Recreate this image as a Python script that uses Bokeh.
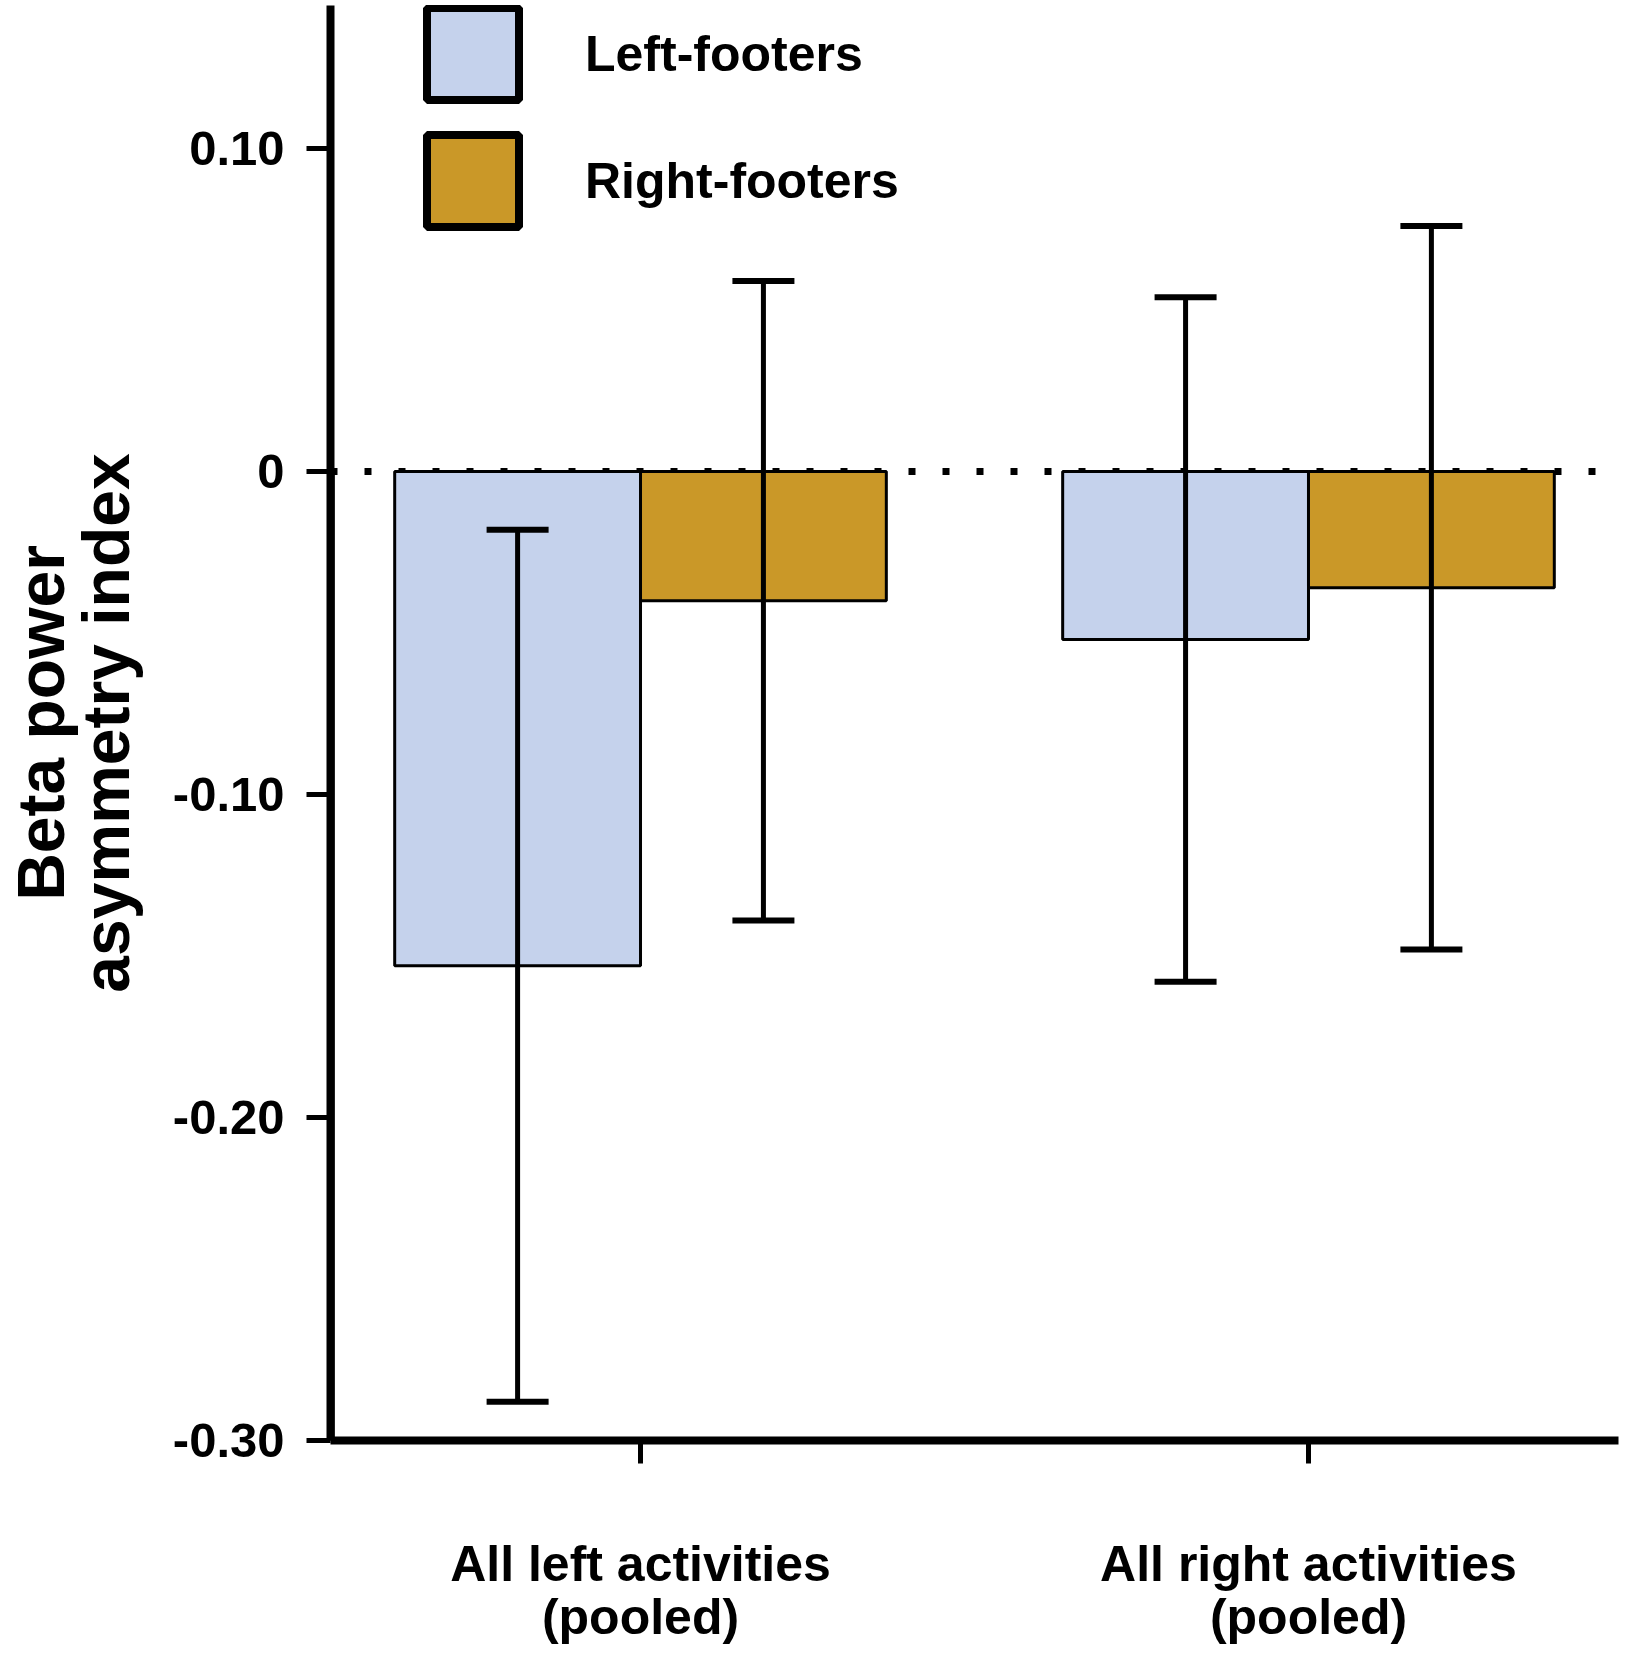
from bokeh.plotting import figure
from bokeh.models import (ColumnDataSource, Range1d, FixedTicker, Whisker, TeeHead, Span,
                          Legend, LegendItem, CustomJSTickFormatter)
from bokeh.embed import file_html
from bokeh.resources import INLINE

# ---------------- data ----------------
categories = ["All left activities\n(pooled)", "All right activities\n(pooled)"]
series = ["Left-footers", "Right-footers"]
left_footers_mean = [-0.153, -0.052]
left_footers_err = [0.135, 0.106]
right_footers_mean = [-0.040, -0.036]
right_footers_err = [0.099, 0.112]
y_ticks = [-0.30, -0.20, -0.10, 0.0, 0.10]
y_title = "Beta power\nasymmetry index"

# ---------------- style / layout ----------------
BLUE = "#C5D2EC"
GOLD = "#CA9828"
FONT = "Liberation Sans"
BAR_W = 0.368
Y0, Y1 = -0.30, 0.1443
X0, X1 = 0.5359, 2.4641
W, H = 1621, 1650
BORDER_L, BORDER_R, BORDER_T, BORDER_B = 330, 3, 5, 210

group_x = [i + 1 for i in range(len(categories))]

p = figure(width=W, height=H, output_backend="svg", toolbar_location=None,
           x_range=Range1d(X0, X1), y_range=Range1d(Y0, Y1),
           min_border_left=BORDER_L, min_border_right=BORDER_R,
           min_border_top=BORDER_T, min_border_bottom=BORDER_B)
p.outline_line_color = None
p.grid.visible = False
p.background_fill_color = "white"
p.border_fill_color = "white"

zero = Span(location=0, dimension="width", line_color="black", line_width=7,
            line_dash="7 27", level="underlay")
p.add_layout(zero)

groups = [
    (left_footers_mean, left_footers_err, BLUE, -BAR_W / 2),
    (right_footers_mean, right_footers_err, GOLD, BAR_W / 2),
]
for means, errs, color, offset in groups:
    xs = [g + offset for g in group_x]
    src = ColumnDataSource(dict(
        x=xs, top=means,
        upper=[m + e for m, e in zip(means, errs)],
        lower=[m - e for m, e in zip(means, errs)],
    ))
    p.vbar(x="x", top="top", bottom=0, width=BAR_W, source=src,
           fill_color=color, line_color="black", line_width=3)
    w = Whisker(base="x", upper="upper", lower="lower", source=src,
                dimension="height", line_width=5, line_color="black",
                upper_head=TeeHead(size=62, line_width=6, line_color="black"),
                lower_head=TeeHead(size=62, line_width=6, line_color="black"),
                level="overlay")
    p.add_layout(w)

# legend: swatch renderers kept outside the visible range, thick outlines
leg_items = []
for name, color in zip(series, [BLUE, GOLD]):
    swatch = ColumnDataSource(dict(x=[X0 - 1.0], top=[Y0]))
    r = p.vbar(x="x", top="top", bottom=0, width=BAR_W, source=swatch,
               fill_color=color, line_color="black", line_width=8)
    leg_items.append(LegendItem(label=name, renderers=[r]))
legend = Legend(items=leg_items, location=(85, 1202), glyph_width=115,
                glyph_height=115, spacing=12, padding=0, margin=0,
                label_standoff=55, label_text_font=FONT,
                label_text_font_style="bold", label_text_font_size="50px",
                label_text_color="black", border_line_color=None,
                background_fill_alpha=0)
p.add_layout(legend)

# y axis
ya = p.yaxis[0]
ya.ticker = FixedTicker(ticks=y_ticks)
ya.formatter = CustomJSTickFormatter(
    code="return Math.abs(tick) < 1e-9 ? '0' : tick.toFixed(2);")
ya.major_label_text_font = FONT
ya.major_label_text_font_style = "bold"
ya.major_label_text_font_size = "49px"
ya.major_label_text_color = "black"
ya.major_label_standoff = 22
ya.major_tick_out = 24
ya.major_tick_in = 0
ya.major_tick_line_width = 5
ya.major_tick_line_color = "black"
ya.minor_tick_out = 0
ya.minor_tick_in = 0
ya.axis_line_width = 8
ya.axis_line_color = "black"
ya.axis_label = y_title
ya.axis_label_text_font = FONT
ya.axis_label_text_font_style = "bold"
ya.axis_label_text_font_size = "66px"
ya.axis_label_text_color = "black"
ya.axis_label_text_line_height = 0.88
ya.axis_label_standoff = 27

# x axis
xa = p.xaxis[0]
xa.ticker = FixedTicker(ticks=group_x)
xa.major_label_overrides = {g: c for g, c in zip(group_x, categories)}
xa.major_label_text_font = FONT
xa.major_label_text_font_style = "bold"
xa.major_label_text_font_size = "50px"
xa.major_label_text_color = "black"
xa.major_label_text_line_height = 0.96
xa.major_label_standoff = 72
xa.major_tick_out = 23
xa.major_tick_in = 0
xa.major_tick_line_width = 5
xa.major_tick_line_color = "black"
xa.minor_tick_out = 0
xa.minor_tick_in = 0
xa.axis_line_width = 8
xa.axis_line_color = "black"

open("out.html", "w").write(file_html(p, INLINE))
